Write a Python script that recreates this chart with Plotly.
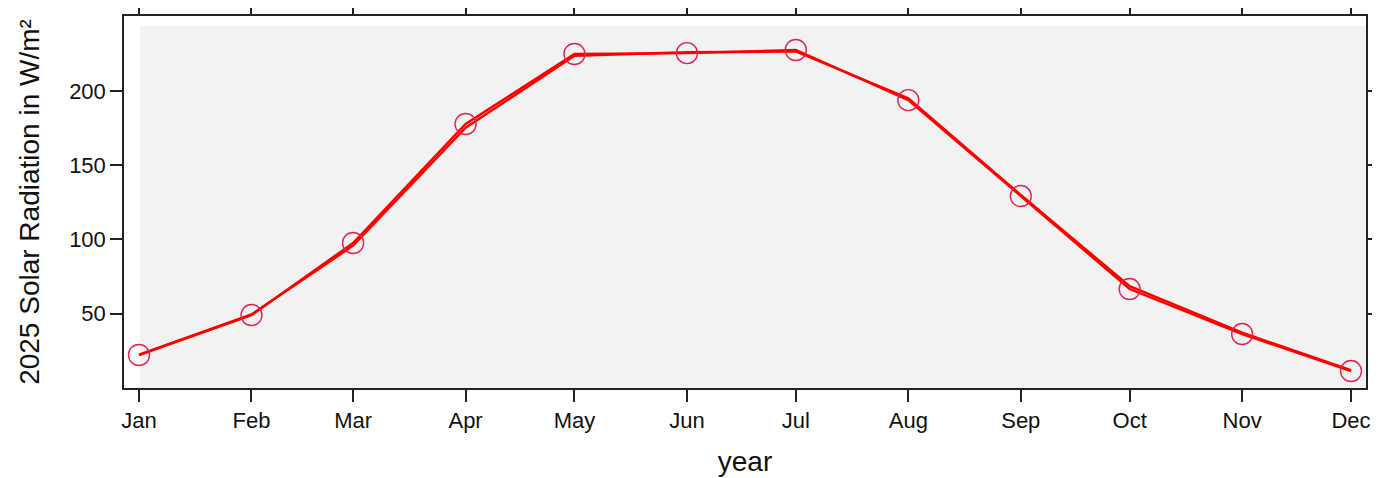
import pandas as pd
import plotly.graph_objects as go

# monthly dates (first of each month, 2025)
months = pd.date_range("2025-01-01", "2025-12-01", freq="MS")

# solar radiation, W/m2
rad_points = [22.2, 49.1, 97.6, 177.7, 224.8, 225.4, 227.5, 193.8, 129.2, 66.6, 36.3, 11.4]
rad_line = [22.5, 49.5, 95.8, 175.2, 223.6, 226.0, 226.5, 195.0, 130.0, 68.5, 37.2, 12.0]

y_ticks = [50, 100, 150, 200]

fnt = "Liberation Sans, Arial, sans-serif"

fig = go.Figure()

# light grey panel background
fig.add_shape(type="rect", xref="x domain", yref="y domain",
              x0=0.013, x1=1, y0=0, y1=0.973,
              fillcolor="#F2F2F2", line_width=0, layer="below")

fig.add_trace(go.Scatter(x=months, y=rad_line, mode="lines",
                         line=dict(color="#FF0000", width=2.4),
                         showlegend=False))
fig.add_trace(go.Scatter(x=months, y=rad_points, mode="lines+markers",
                         line=dict(color="#FF0000", width=2.4),
                         marker=dict(symbol="circle-open", size=21,
                                     color="#E8204F", line=dict(width=1.4)),
                         showlegend=False))

fig.update_xaxes(
    range=["2024-12-27 20:50", "2025-12-05 03:10"],
    tickvals=months, tickformat="%b",
    ticks="outside", ticklen=12, tickwidth=1.5, tickcolor="#222",
    showline=True, linecolor="#222", linewidth=1.5, mirror="ticks",
    showgrid=False, zeroline=False, automargin=False,
    tickfont=dict(family=fnt, size=22, color="#111"),
    title=dict(text="year", font=dict(family=fnt, size=28, color="#111"), standoff=19),
)
fig.update_yaxes(
    range=[0, 250.4],
    tickvals=y_ticks,
    ticks="outside", ticklen=12, tickwidth=1.5, tickcolor="#222",
    showline=True, linecolor="#222", linewidth=1.5, mirror="ticks",
    showgrid=False, zeroline=False, automargin=False,
    tickfont=dict(family=fnt, size=22, color="#111"),
    title=dict(text="2025 Solar Radiation in W/m²", font=dict(family=fnt, size=28, color="#111"), standoff=21),
)

# page has an 8px body margin, so the figure is offset
fig.update_layout(
    width=1372, height=470,
    margin=dict(l=116, r=14, t=8, b=90),
    paper_bgcolor="white", plot_bgcolor="white",
)

fig.write_html("out.html")
